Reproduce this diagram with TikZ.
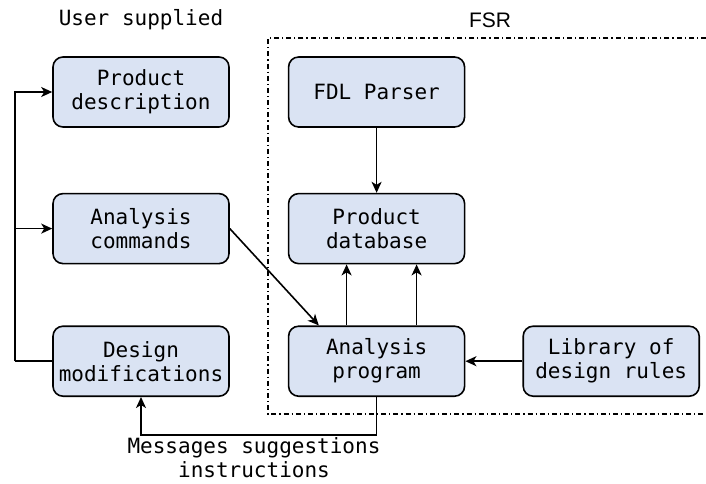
\documentclass[tikz,border=0pt]{standalone}
\usepackage{fontspec}
\usepackage{xcolor}
\usepackage{tikz}
\usetikzlibrary{positioning,arrows.meta}
\setmonofont{DejaVu Sans Mono}
\newfontfamily\fsrfont{Liberation Sans}
\definecolor{boxfill}{HTML}{DAE3F3}

\begin{document}
\begin{tikzpicture}[x=1pt, y=-1pt, >={Stealth[length=11pt,width=10pt,inset=3pt]},
    every node/.style={font=\ttfamily\fontsize{21}{24}\selectfont},
    block/.style={rectangle, draw, line width=1.6pt, rounded corners=10pt, fill=boxfill,
        minimum width=176pt, minimum height=70pt, align=center, inner sep=0pt},
    link/.style={line width=1.6pt}]
    \useasboundingbox (0,0) rectangle (706,483);

    % left column
    \node (pd) [block] at (141,92) {Product\\description};
    \node (ac) [block, below=65pt of pd] {Analysis\\commands};
    \node (dm) [block, below=61pt of ac] {Design\\modifications};
    % FSR column
    \node (fdl) [block, right=58pt of pd] {FDL Parser};
    \node (pdb) [block, right=58pt of ac] {Product\\database};
    \node (ap) [block, right=58pt of dm] {Analysis\\program};
    \node (lib) [block, right=57pt of ap] {Library of\\design rules};

    \node (user) at (141,20) {User supplied};
    \node (fsr) [font=\fsrfont\fontsize{21}{24}\selectfont] at (490,20) {FSR};
    \node (msg) [align=center] at (254,458) {Messages suggestions\\instructions};

    % FSR frame
    \draw[link, dash pattern=on 5pt off 3pt on 1.2pt off 3pt] (706,38) -- (268,38) -- (268,414) -- (706,414);

    \coordinate (bus) at ([xshift=-37pt]dm.west);
    \coordinate (loop) at ([yshift=-38pt]ap.south);
    \draw[link] (dm.west) -- (bus);
    \draw[link, ->] (bus) |- (pd.west);
    \draw[link, ->] (bus) |- (ac.west);
    \draw[link, ->] (ac.east) -- ([xshift=31pt]ap.north west);
    \draw[link, ->] (fdl) -- (pdb);
    \draw[link, ->] ([xshift=-30pt]ap.north) -- ([xshift=-30pt]pdb.south);
    \draw[link, ->] ([xshift=40pt]ap.north) -- ([xshift=40pt]pdb.south);
    \draw[link, ->] (lib) -- (ap);
    \draw[link, ->] (ap.south) -- (loop) -| (dm.south);
\end{tikzpicture}
\end{document}
